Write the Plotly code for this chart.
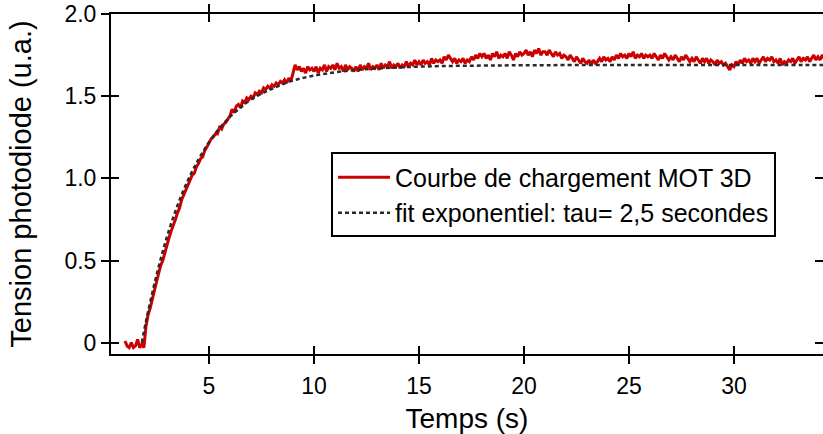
import plotly.graph_objects as go

# ---- data ----
t_start = 1.0   # s, first sample of the measured curve
t_step = 0.1    # s, sampling step
signal = [
    # 1.0 - 1.9
    0.01, -0.02, -0.03, 0.00, -0.03, -0.02, 0.02, -0.03, -0.01, -0.03,
    # 2.0 - 2.9
    0.10, 0.17, 0.21, 0.27, 0.31, 0.37, 0.42, 0.47, 0.50, 0.55,
    # 3.0 - 3.9
    0.60, 0.64, 0.68, 0.71, 0.75, 0.79, 0.82, 0.87, 0.90, 0.94,
    # 4.0 - 4.9
    0.97, 1.00, 1.02, 1.03, 1.07, 1.09, 1.12, 1.13, 1.17, 1.19,
    # 5.0 - 5.9
    1.22, 1.24, 1.25, 1.27, 1.27, 1.31, 1.30, 1.33, 1.34, 1.36,
    # 6.0 - 6.9
    1.38, 1.42, 1.40, 1.44, 1.45, 1.43, 1.47, 1.46, 1.49, 1.48,
    # 7.0 - 7.9
    1.50, 1.49, 1.52, 1.51, 1.53, 1.52, 1.55, 1.54, 1.56, 1.55,
    # 8.0 - 8.9
    1.57, 1.56, 1.58, 1.57, 1.59, 1.58, 1.60, 1.58, 1.61, 1.59,
    # 9.0 - 9.9
    1.65, 1.69, 1.66, 1.68, 1.65, 1.67, 1.64, 1.68, 1.66, 1.67,
    # 10.0 - 10.9
    1.65, 1.68, 1.64, 1.67, 1.66, 1.69, 1.65, 1.68, 1.67, 1.69,
    # 11.0 - 11.9
    1.66, 1.70, 1.67, 1.68, 1.65, 1.69, 1.66, 1.68, 1.67, 1.65,
    # 12.0 - 12.9
    1.68, 1.65, 1.69, 1.66, 1.68, 1.67, 1.70, 1.66, 1.68, 1.67,
    # 13.0 - 13.9
    1.69, 1.66, 1.70, 1.67, 1.69, 1.68, 1.71, 1.67, 1.69, 1.68,
    # 14.0 - 14.9
    1.70, 1.67, 1.69, 1.68, 1.71, 1.68, 1.70, 1.69, 1.72, 1.69,
    # 15.0 - 15.9
    1.71, 1.69, 1.72, 1.70, 1.71, 1.69, 1.73, 1.70, 1.72, 1.71,
    # 16.0 - 16.9
    1.72, 1.70, 1.74, 1.72, 1.75, 1.73, 1.71, 1.73, 1.70, 1.72,
    # 17.0 - 17.9
    1.71, 1.73, 1.70, 1.72, 1.71, 1.74, 1.72, 1.75, 1.73, 1.76,
    # 18.0 - 18.9
    1.74, 1.76, 1.73, 1.75, 1.72, 1.76, 1.74, 1.77, 1.73, 1.75,
    # 19.0 - 19.9
    1.74, 1.76, 1.73, 1.77, 1.75, 1.72, 1.76, 1.74, 1.77, 1.75,
    # 20.0 - 20.9
    1.76, 1.78, 1.75, 1.77, 1.74, 1.78, 1.76, 1.79, 1.75, 1.77,
    # 21.0 - 21.9
    1.77, 1.75, 1.78, 1.76, 1.74, 1.77, 1.75, 1.76, 1.73, 1.75,
    # 22.0 - 22.9
    1.74, 1.72, 1.75, 1.73, 1.71, 1.74, 1.72, 1.70, 1.73, 1.71,
    # 23.0 - 23.9
    1.70, 1.72, 1.69, 1.72, 1.70, 1.71, 1.73, 1.71, 1.74, 1.72,
    # 24.0 - 24.9
    1.73, 1.71, 1.74, 1.72, 1.75, 1.73, 1.76, 1.74, 1.75, 1.73,
    # 25.0 - 25.9
    1.76, 1.74, 1.77, 1.73, 1.75, 1.74, 1.76, 1.73, 1.75, 1.74,
    # 26.0 - 26.9
    1.75, 1.73, 1.76, 1.74, 1.72, 1.75, 1.73, 1.76, 1.74, 1.72,
    # 27.0 - 27.9
    1.74, 1.72, 1.75, 1.73, 1.71, 1.74, 1.72, 1.75, 1.73, 1.71,
    # 28.0 - 28.9
    1.73, 1.71, 1.74, 1.72, 1.70, 1.73, 1.71, 1.73, 1.70, 1.72,
    # 29.0 - 29.9
    1.71, 1.69, 1.72, 1.70, 1.71, 1.69, 1.70, 1.68, 1.66, 1.69,
    # 30.0 - 30.9
    1.68, 1.71, 1.69, 1.72, 1.70, 1.73, 1.71, 1.72, 1.70, 1.73,
    # 31.0 - 31.9
    1.71, 1.73, 1.70, 1.72, 1.74, 1.71, 1.73, 1.72, 1.74, 1.71,
    # 32.0 - 32.9
    1.72, 1.70, 1.73, 1.69, 1.71, 1.70, 1.72, 1.71, 1.73, 1.70,
    # 33.0 - 33.9
    1.72, 1.74, 1.71, 1.73, 1.72, 1.74, 1.71, 1.73, 1.75, 1.72,
    # 34.0 - 34.3
    1.74, 1.72, 1.75, 1.73,
]
time = [round(t_start + i * t_step, 2) for i in range(len(signal))]

fit_time = [1.8, 2.0, 2.5, 3.0, 3.5, 4.0, 4.5, 5.0, 5.5, 6.0, 6.5, 7.0, 7.5, 8.0,
            9.0, 10.0, 11.0, 12.0, 14.0, 16.0, 18.0, 20.0, 25.0, 30.0, 34.4]
fit_value = [0.00, 0.13, 0.41, 0.645, 0.835, 0.99, 1.115, 1.22, 1.305, 1.375,
             1.43, 1.48, 1.515, 1.545, 1.595, 1.625, 1.645, 1.66, 1.675, 1.683,
             1.686, 1.688, 1.69, 1.69, 1.69]

x_ticks = [5, 10, 15, 20, 25, 30]
y_ticks = [0, 0.5, 1.0, 1.5, 2.0]
y_tick_text = ["0", "0.5", "1.0", "1.5", "2.0"]
x_range = [0.333, 34.24]
y_range = [-0.069, 2.0]

FONT = "Liberation Sans, Arial, Helvetica, sans-serif"

fig = go.Figure()
fig.add_trace(go.Scatter(
    x=time, y=signal, mode="lines",
    name="Courbe de chargement MOT 3D",
    line=dict(color="#cc0000", width=3),
))
fig.add_trace(go.Scatter(
    x=fit_time, y=fit_value, mode="lines", line_shape="spline",
    name="fit exponentiel: tau= 2,5 secondes",
    line=dict(color="#2a2a2a", width=2.5, dash="4px,3px"),
))
# empty helper trace so that the overlaid tick-only axes get drawn
fig.add_trace(go.Scatter(
    x=[x_range[0]], y=[y_range[0]], xaxis="x2", yaxis="y2", mode="lines",
    showlegend=False, hoverinfo="skip", line=dict(width=0),
))

axis_common = dict(showgrid=False, zeroline=False, tickcolor="black",
                   tickwidth=1.5, ticklen=8)

fig.update_layout(
    width=823, height=434,
    margin=dict(l=111, r=0, t=14, b=80),
    paper_bgcolor="white", plot_bgcolor="white",
    font=dict(family=FONT, color="black", size=23),
    showlegend=True,
    legend=dict(
        x=0.309, y=0.593, xanchor="left", yanchor="top",
        bgcolor="white", bordercolor="black", borderwidth=2,
        font=dict(size=25, family=FONT, color="black"),
        itemwidth=52, tracegroupgap=0,
    ),
    xaxis=dict(
        range=x_range, tickvals=x_ticks, ticks="outside",
        showline=True, linewidth=2, linecolor="black", mirror="allticks",
        title=dict(text="Temps (s)", font=dict(size=28), standoff=11),
        tickfont=dict(size=23), ticklabelstandoff=2,
        **axis_common,
    ),
    xaxis2=dict(
        range=x_range, tickvals=x_ticks, ticks="inside", overlaying="x",
        anchor="y2", showline=False, mirror="allticks", showticklabels=False,
        **axis_common,
    ),
    yaxis=dict(
        range=y_range, tickvals=y_ticks, ticktext=y_tick_text, ticks="outside",
        showline=True, linewidth=2, linecolor="black", mirror=False,
        title=dict(text="Tension photodiode (u.a.)", font=dict(size=29), standoff=24),
        tickfont=dict(size=23),
        **axis_common,
    ),
    yaxis2=dict(
        range=y_range, tickvals=y_ticks, ticks="inside", overlaying="y",
        anchor="x2", side="left", showline=False, mirror="allticks",
        showticklabels=False,
        **axis_common,
    ),
)

fig.write_html("out.html", config={"displayModeBar": False},
               post_script="document.body.style.margin='0';")
